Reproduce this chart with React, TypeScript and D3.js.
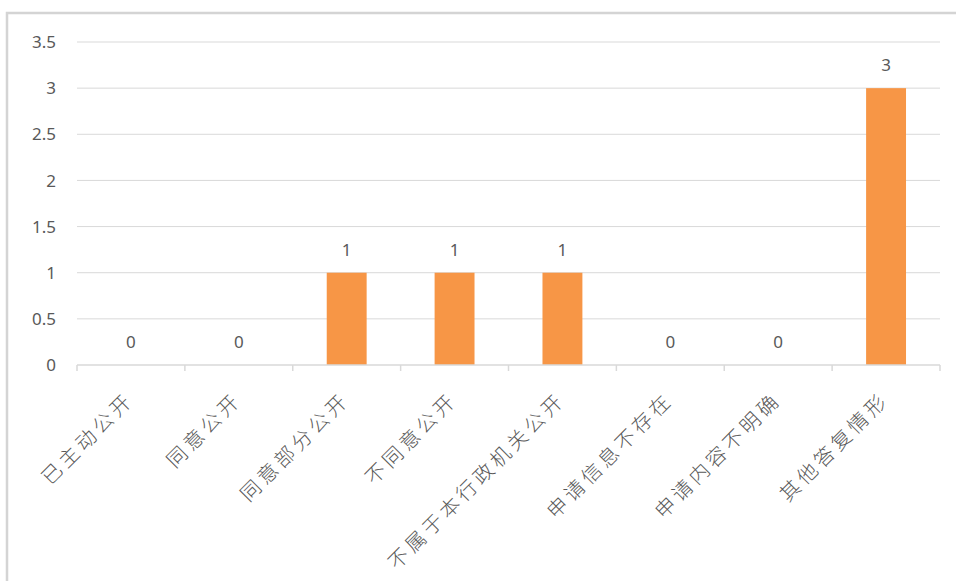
import React from 'react';
import * as d3 from 'd3';

const categories = ['已主动公开', '同意公开', '同意部分公开', '不同意公开', '不属于本行政机关公开', '申请信息不存在', '申请内容不明确', '其他答复情形'];
const values = [0, 0, 1, 1, 1, 0, 0, 3];
const yTicks = [0, 0.5, 1, 1.5, 2, 2.5, 3, 3.5];

const W = 956;
const H = 581;
const margin = { top: 42, right: 16, bottom: 216, left: 77 };

const App: React.FC = () => {
  const x = d3.scaleBand<string>()
    .domain(categories)
    .range([margin.left, W - margin.right])
    .paddingInner(0)
    .paddingOuter(0);

  const y = d3.scaleLinear()
    .domain([0, 3.5])
    .range([H - margin.bottom, margin.top]);

  const barW = x.bandwidth() * 0.37;
  const grid = '#d9d9d9';
  const txt = '#595959';
  const orange = '#F79646';

  return (
    <svg width={W} height={H} style={{ position: 'absolute', left: 0, top: 0, background: '#fff' }}>
      {/* outer frame */}
      <path d={`M7,${H + 5} V13 H${W + 5}`} fill="none" stroke="#d4d4d4" strokeWidth={2.5} />

      {/* grid lines */}
      {yTicks.filter(t => t > 0).map(t => (
        <line key={t} x1={margin.left} x2={W - margin.right} y1={y(t)} y2={y(t)} stroke={grid} strokeWidth={1} />
      ))}

      {/* y tick labels */}
      {yTicks.map(t => (
        <text key={'yl' + t} x={56} y={y(t)} dy="0.36em" textAnchor="end" fontSize={17}
          fontFamily="'Noto Sans', sans-serif" fill={txt}>{t}</text>
      ))}

      {/* bars */}
      {categories.map((c, i) => {
        const cx = x(c)! + x.bandwidth() / 2;
        return values[i] > 0 ? (
          <rect key={'b' + c} x={cx - barW / 2} y={y(values[i])} width={barW}
            height={y(0) - y(values[i])} fill={orange} />
        ) : null;
      })}

      {/* x axis */}
      <line x1={margin.left} x2={W - margin.right} y1={y(0)} y2={y(0)} stroke={grid} strokeWidth={1.5} />
      {d3.range(categories.length + 1).map(i => {
        const tx = margin.left + i * x.bandwidth();
        return <line key={'t' + i} x1={tx} x2={tx} y1={y(0)} y2={y(0) + 6} stroke={grid} strokeWidth={1.5} />;
      })}

      {/* value labels */}
      {categories.map((c, i) => {
        const cx = x(c)! + x.bandwidth() / 2;
        return (
          <text key={'v' + c} x={cx} y={y(values[i]) - 23} dy="0.36em" textAnchor="middle" fontSize={17}
            fontFamily="'Noto Sans', sans-serif" fill={txt}>{values[i]}</text>
        );
      })}

      {/* category labels */}
      {categories.map(c => {
        const cx = x(c)! + x.bandwidth() / 2;
        return (
          <text key={'c' + c} transform={`translate(${cx + 4},401) rotate(-45)`} textAnchor="end"
            fontSize={20} letterSpacing={4} fontFamily="'Noto Sans CJK SC', sans-serif" fontWeight={300} fill={txt}>{c}</text>
        );
      })}
    </svg>
  );
};

export default App;
